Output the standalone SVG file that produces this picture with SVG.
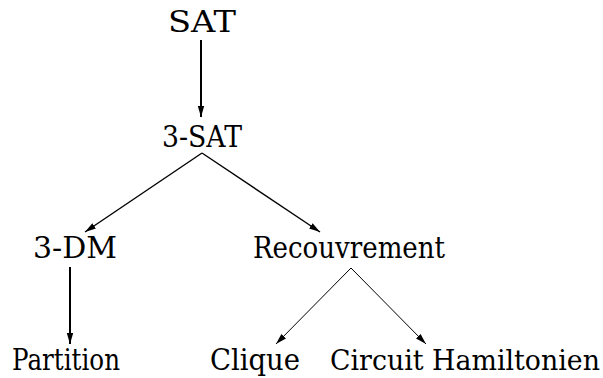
<svg xmlns="http://www.w3.org/2000/svg" width="603" height="378" viewBox="0 0 603 378">
<style>
text{font-family:'DejaVu Serif',serif;font-size:29px;fill:#000;text-anchor:middle}
.b{font-size:27px}
.c{stroke:#000;fill:none}
</style>
<defs>
<marker id="ah" markerWidth="12" markerHeight="8" refX="11" refY="4" orient="auto" markerUnits="userSpaceOnUse">
<path d="M0,0.8 L11,4 L0,7.2 Z" fill="#000"/>
</marker>
</defs>
<rect width="603" height="378" fill="#fff"/>
<g id="connectors">
<line class="c" x1="201" y1="40" x2="201" y2="117" stroke-width="2" marker-end="url(#ah)"/>
<line class="c" x1="202" y1="153" x2="85" y2="232" stroke-width="1.4" marker-end="url(#ah)"/>
<line class="c" x1="202" y1="153" x2="320" y2="232" stroke-width="1.4" marker-end="url(#ah)"/>
<line class="c" x1="70" y1="267" x2="70" y2="344" stroke-width="2" marker-end="url(#ah)"/>
<line class="c" x1="351" y1="268" x2="276" y2="344" stroke-width="1" marker-end="url(#ah)"/>
<line class="c" x1="351" y1="268" x2="426" y2="344" stroke-width="1" marker-end="url(#ah)"/>
</g>
<g id="n-sat"><text x="202" y="32" textLength="68" lengthAdjust="spacingAndGlyphs">SAT</text></g>
<g id="n-3sat"><text x="202" y="147" textLength="80" lengthAdjust="spacingAndGlyphs">3-SAT</text></g>
<g id="n-3dm"><text x="75" y="258" textLength="84" lengthAdjust="spacingAndGlyphs">3-DM</text></g>
<g id="n-recouvrement"><text x="349" y="258" textLength="192" lengthAdjust="spacingAndGlyphs">Recouvrement</text></g>
<g id="n-partition"><text x="66" y="370" textLength="108" lengthAdjust="spacingAndGlyphs">Partition</text></g>
<g id="n-clique"><text x="255" y="370" textLength="90" lengthAdjust="spacingAndGlyphs">Clique</text></g>
<g id="n-circuit"><text class="b" x="465" y="370" textLength="270" lengthAdjust="spacingAndGlyphs">Circuit Hamiltonien</text></g>
</svg>
